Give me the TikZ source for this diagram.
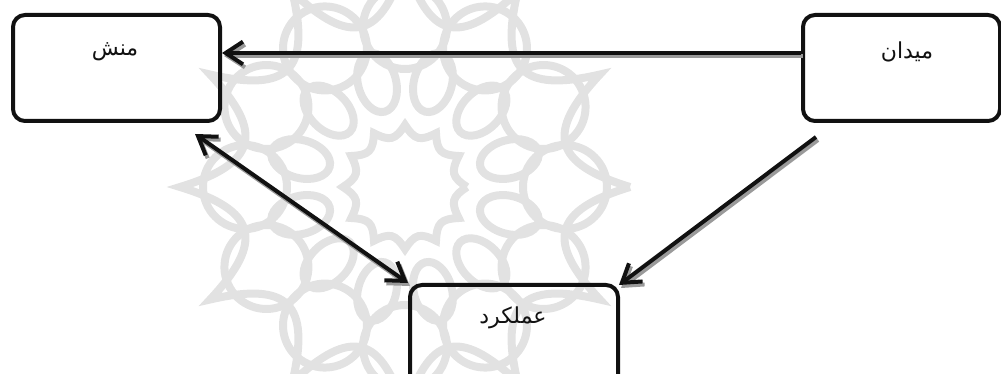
\documentclass[tikz,border=0pt]{standalone}
\usepackage{fontspec}
\newfontfamily\arabicfont[Script=Arabic]{DejaVu Sans}
\TeXXeTstate=1
\usetikzlibrary{arrows.meta,calc}
\definecolor{boxc}{HTML}{111111}
\definecolor{shadowc}{HTML}{9A9A9A}
\definecolor{wmc}{HTML}{E2E2E2}
\tikzset{
  box/.style={draw=boxc, line width=3pt, rounded corners=9pt, inner sep=0pt},
  lbl/.style={font=\arabicfont\fontsize{16.5}{19}\selectfont, inner sep=0pt, text=boxc},
  conn/.style={line width=3pt, draw=boxc},
  shadowline/.style={line width=3pt, draw=shadowc},
  tipend/.style={-{Straight Barb[length=13pt,width=17pt]}},
  tipboth/.style={{Straight Barb[length=13pt,width=17pt]}-{Straight Barb[length=13pt,width=17pt]}},
  wm/.style={draw=wmc, line width=6pt}
}
\newcommand\shconn[3]{%
  \draw[shadowline,#1,transform canvas={shift={(2,3)}}] #2 -- #3;
  \draw[conn,#1] #2 -- #3;}
\begin{document}
\begin{tikzpicture}[x=0.75pt,y=-0.75pt]
\useasboundingbox (0,0) rectangle (1001,374);
% watermark
\begin{scope}[shift={(405,187)}]
  \draw[wm] (0:225) \foreach \k in {0,...,11}{ .. controls ({\k*30+9}:150) and ({\k*30+21}:150) .. ({\k*30+30}:225) };
  \foreach \k in {0,...,11} \draw[wm,rotate=\k*30] (160,0) circle[radius=42];
  \foreach \k in {0,...,11} \draw[wm,rotate=\k*30+15] (108,0) ellipse[x radius=30,y radius=19];
  \draw[wm] (0:62) \foreach \k in {0,...,11}{ .. controls ({\k*30+12}:48) and ({\k*30+18}:48) .. ({\k*30+30}:62) };
\end{scope}
% boxes
\node[box, minimum width=155.25pt, minimum height=79.5pt] (manesh) at (116.5,68) {};
\node[box, minimum width=147.75pt, minimum height=79.5pt] (miydan) at (901.5,68) {};
\node[box, minimum width=156pt, minimum height=82.5pt] (amal) at (514,340) {};
% labels
\node[lbl] (lmanesh) at (115,52) {\beginR منش\endR};
\node[lbl] (lmiydan) at (907,52) {\beginR میدان\endR};
\node[lbl] (lamal) at (513,318) {\beginR عملکرد\endR};
% connectors
\shconn{tipend}{($(miydan.west)+(0,-15)$)}{($(manesh.east)+(0,-15)$)}
\shconn{tipboth}{($(manesh.south east)+(-27,11)$)}{($(amal.north west)+(0,0)$)}
\shconn{tipend}{($(miydan.south west)+(15,14)$)}{($(amal.north east)+(-1,2)$)}
\end{tikzpicture}
\end{document}
